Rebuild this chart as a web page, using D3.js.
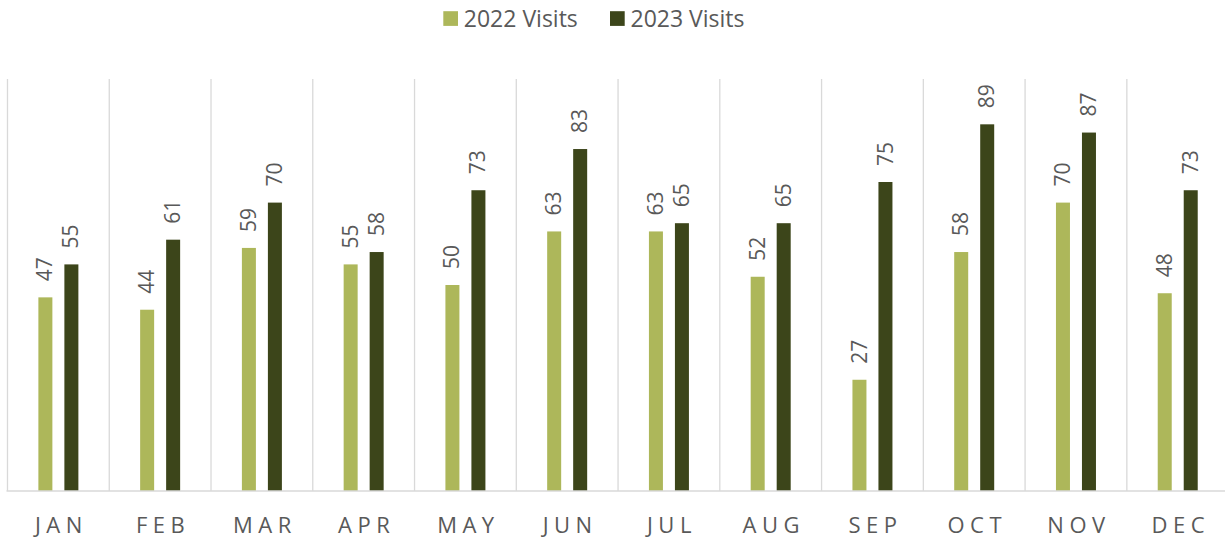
<!DOCTYPE html>
<html>
<head>
<meta charset="utf-8">
<script src="https://cdn.jsdelivr.net/npm/d3@7"></script>
<style>
  html, body { margin: 0; padding: 0; background: #ffffff; }
  svg { display: block; font-family: "Open Sans", "Noto Sans", sans-serif; }
</style>
</head>
<body>
<svg id="chart" width="1225" height="539"></svg>
<script>
// Monthly visits, two years side by side
const months = ["JAN","FEB","MAR","APR","MAY","JUN","JUL","AUG","SEP","OCT","NOV","DEC"];
const seriesNames = ["2022 Visits", "2023 Visits"];
const visits2022 = [47, 44, 59, 55, 50, 63, 63, 52, 27, 58, 70, 48];
const visits2023 = [55, 61, 70, 58, 73, 83, 65, 65, 75, 89, 87, 73];
const seriesColors = ["#adb75a", "#3c451a"];

const valuesBySeries = [visits2022, visits2023];
const rows = months.map((m, i) => ({ month: m, values: valuesBySeries.map((v, s) => ({ series: seriesNames[s], value: v[i], s })) }));

const svg = d3.select("#chart");
const plot = { left: 7.5, right: 1228.6, top: 79, bottom: 491 };

const x = d3.scaleBand().domain(months).range([plot.left, plot.right]).padding(0);
const xInner = d3.scaleBand().domain(seriesNames).range([-20, 20]).paddingInner(12 / 26);
const y = d3.scaleLinear().domain([0, 100]).range([plot.bottom, plot.top]);

// vertical category separators
const bounds = months.map(m => x(m)).concat([plot.right]);
svg.append("g").selectAll("line").data(bounds).join("line")
  .attr("x1", d => d).attr("x2", d => d)
  .attr("y1", plot.top).attr("y2", plot.bottom)
  .attr("stroke", "#d9d9d9").attr("stroke-width", 1.3);

// bars
const groups = svg.append("g").selectAll("g").data(rows).join("g")
  .attr("transform", d => `translate(${x(d.month) + x.bandwidth() / 2},0)`);

groups.selectAll("rect").data(d => d.values).join("rect")
  .attr("x", d => xInner(d.series))
  .attr("width", xInner.bandwidth())
  .attr("y", d => y(d.value))
  .attr("height", d => y(0) - y(d.value))
  .attr("fill", d => seriesColors[d.s]);

// rotated value labels above each bar
groups.selectAll("text").data(d => d.values).join("text")
  .attr("transform", d => `translate(${xInner(d.series) + xInner.bandwidth() / 2 - 0.5},${y(d.value) - 16}) rotate(-90)`)
  .attr("dy", "0.36em")
  .attr("text-anchor", "start")
  .attr("fill", "#595959")
  .attr("font-size", 21)
  .text(d => d.value);

// baseline
svg.append("line")
  .attr("x1", plot.left - 1).attr("x2", plot.right)
  .attr("y1", y(0)).attr("y2", y(0))
  .attr("stroke", "#d9d9d9").attr("stroke-width", 1.5);

// month axis
const xAxis = d3.axisBottom(x).tickSize(0).tickPadding(0);
const axisG = svg.append("g").attr("transform", `translate(0,${plot.bottom})`).call(xAxis);
axisG.select(".domain").remove();
axisG.selectAll("text")
  .attr("y", 34.5)
  .attr("dy", "0.35em")
  .attr("dx", 3)
  .attr("fill", "#595959")
  .attr("font-size", 22)
  .attr("font-family", "'Open Sans', sans-serif")
  .style("letter-spacing", "5.5px");

// legend
const legendX = [443.3, 610];
const legend = svg.append("g").selectAll("g").data(seriesNames).join("g")
  .attr("transform", (d, i) => `translate(${legendX[i]},18.5)`);
legend.append("rect")
  .attr("x", 0).attr("y", -7.3).attr("width", 14.7).attr("height", 14.7)
  .attr("fill", (d, i) => seriesColors[i]);
legend.append("text")
  .attr("x", 20.5).attr("dy", "0.35em")
  .attr("fill", "#595959")
  .attr("font-size", 23)
  .text(d => d);
</script>
</body>
</html>
